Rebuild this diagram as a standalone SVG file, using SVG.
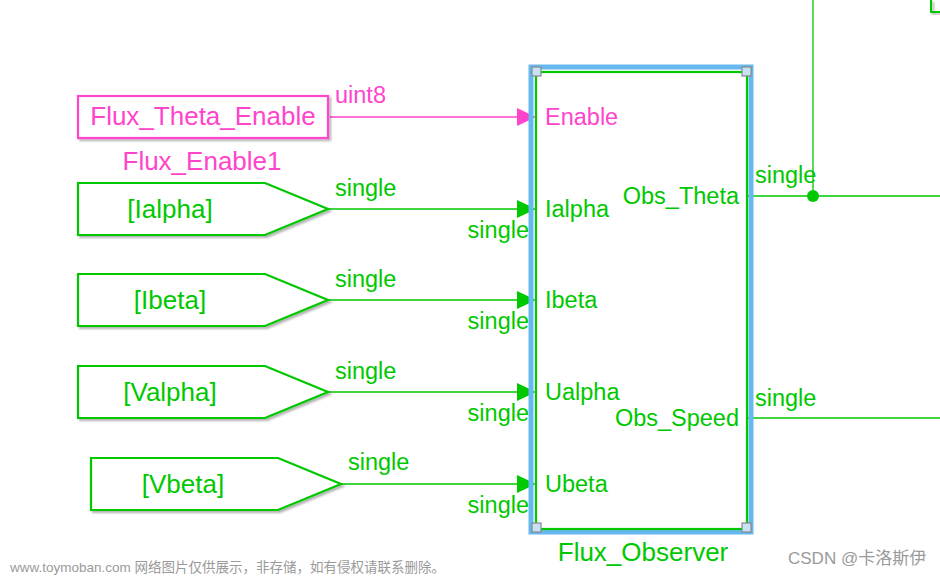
<svg xmlns="http://www.w3.org/2000/svg" width="940" height="576" viewBox="0 0 940 576">
<defs>
<style>
.g{fill:#00c800;font-family:"Liberation Sans",Arial,sans-serif;font-size:23.5px}
.p{fill:#ff44cc;font-family:"Liberation Sans",Arial,sans-serif;font-size:23.5px}
.b{font-size:26px}
.blk{fill:#fff;stroke:#00c800;stroke-width:2.2}
.pk{fill:#fff;stroke:#ff44cc;stroke-width:2.2}
.ln{fill:none;stroke:#00c800;stroke-width:1.3}
.lnp{fill:none;stroke:#ff44cc;stroke-width:1.3}
.h{fill:#c8e2f5;stroke:#888;stroke-width:1.2}
.wm{fill:#9a9a9a;font-family:"Liberation Sans","Noto Sans CJK SC",sans-serif}
</style>
<filter id="sh" x="-5%" y="-10%" width="115%" height="130%">
<feDropShadow dx="2" dy="2" stdDeviation="1.2" flood-color="#000" flood-opacity="0.3"/>
</filter>
</defs>
<rect width="940" height="576" fill="#fff"/>

<g id="connectors">
<path class="ln" d="M813 0V196"/>
<line class="lnp" x1="330" y1="117" x2="520" y2="117"/>
<polygon points="517,108 536,117 517,126" fill="#ff44cc"/>
<line class="ln" x1="328" y1="209" x2="520" y2="209"/>
<polygon points="517,200 536,209 517,218" fill="#00c800"/>
<line class="ln" x1="328" y1="300" x2="520" y2="300"/>
<polygon points="517,291 536,300 517,309" fill="#00c800"/>
<line class="ln" x1="328" y1="392" x2="520" y2="392"/>
<polygon points="517,383 536,392 517,401" fill="#00c800"/>
<line class="ln" x1="341" y1="484" x2="520" y2="484"/>
<polygon points="517,475 536,484 517,493" fill="#00c800"/>
<line class="ln" x1="748" y1="196" x2="940" y2="196"/>
<circle cx="813" cy="196" r="6" fill="#00c800"/>
<line class="ln" x1="748" y1="418" x2="940" y2="418"/>
<text class="p" x="335" y="103">uint8</text>
<text class="g" x="335" y="196">single</text>
<text class="g" x="335" y="287">single</text>
<text class="g" x="335" y="379">single</text>
<text class="g" x="348" y="470">single</text>
<text class="g" x="529" y="238" text-anchor="end">single</text>
<text class="g" x="529" y="329" text-anchor="end">single</text>
<text class="g" x="529" y="421" text-anchor="end">single</text>
<text class="g" x="529" y="513" text-anchor="end">single</text>
<text class="g" x="755" y="183">single</text>
<text class="g" x="755" y="406">single</text>
</g>

<g id="topright">
<path d="M931 0V12H940" fill="none" stroke="#00c800" stroke-width="2.2" filter="url(#sh)"/>
</g>

<g id="flux_theta_enable">
<rect class="pk" x="78" y="96" width="250" height="42" filter="url(#sh)"/>
<text class="p b" x="203" y="125" text-anchor="middle">Flux_Theta_Enable</text>
<text class="p b" x="202" y="170" text-anchor="middle">Flux_Enable1</text>
</g>

<g id="from_ialpha">
<polygon class="blk" points="78,183 265,183 328,209 265,235 78,235" filter="url(#sh)"/>
<text class="g b" x="170" y="218" text-anchor="middle">[Ialpha]</text>
</g>
<g id="from_ibeta">
<polygon class="blk" points="78,274 265,274 328,300 265,326 78,326" filter="url(#sh)"/>
<text class="g b" x="170" y="309" text-anchor="middle">[Ibeta]</text>
</g>
<g id="from_valpha">
<polygon class="blk" points="78,366 265,366 328,392 265,418 78,418" filter="url(#sh)"/>
<text class="g b" x="170" y="401" text-anchor="middle">[Valpha]</text>
</g>
<g id="from_vbeta">
<polygon class="blk" points="91,458 278,458 341,484 278,510 91,510" filter="url(#sh)"/>
<text class="g b" x="183" y="493" text-anchor="middle">[Vbeta]</text>
</g>

<g id="flux_observer">
<rect x="531" y="67" width="220" height="465" fill="none" stroke="#66b8f0" stroke-width="5"/>
<rect class="blk" x="536" y="72" width="211" height="457"/>
<rect class="h" x="532" y="67" width="9" height="9"/>
<rect class="h" x="742" y="67" width="9" height="9"/>
<rect class="h" x="532" y="523" width="9" height="9"/>
<rect class="h" x="742" y="523" width="9" height="9"/>
<text class="p" x="545" y="125">Enable</text>
<text class="g" x="545" y="217">Ialpha</text>
<text class="g" x="545" y="308">Ibeta</text>
<text class="g" x="545" y="400">Ualpha</text>
<text class="g" x="545" y="492">Ubeta</text>
<text class="g" x="739" y="204" text-anchor="end">Obs_Theta</text>
<text class="g" x="739" y="426" text-anchor="end">Obs_Speed</text>
<text class="g b" x="643" y="561" text-anchor="middle">Flux_Observer</text>
</g>

<text class="wm" x="10" y="572" style="font-size:13.5px">www.toymoban.com 网络图片仅供展示，非存储，如有侵权请联系删除。</text>
<text class="wm" x="788" y="564" style="font-size:17px">CSDN @卡洛斯伊</text>
</svg>
